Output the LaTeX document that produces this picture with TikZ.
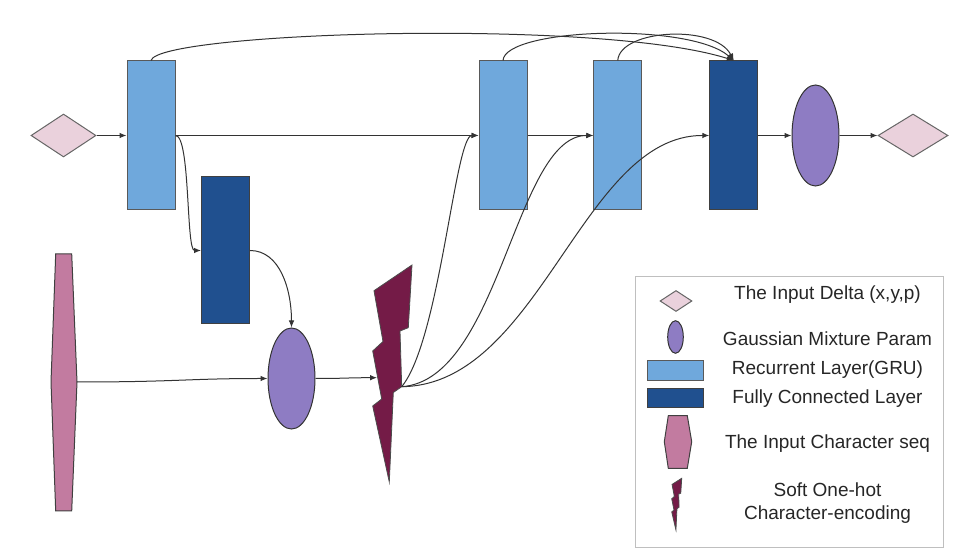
\documentclass[tikz,border=0pt]{standalone}
\usepackage{fontspec}
\setmainfont{Liberation Sans}
\usetikzlibrary{shapes.geometric,arrows.meta}
\definecolor{deltapink}{HTML}{EAD1DC}
\definecolor{grublue}{HTML}{6FA8DC}
\definecolor{fcblue}{HTML}{20508F}
\definecolor{gmmpurple}{HTML}{8E7CC3}
\definecolor{seqpink}{HTML}{C27BA0}
\definecolor{boltred}{HTML}{741B47}
\definecolor{linegray}{HTML}{333333}
\tikzset{
  boltshape/.pic={
    \filldraw[fill=boltred,draw=black!70,line width=0.4pt]
      (0,0) -- (-38,25.7) -- (-29,76.5) -- (-39.3,86) -- (-30.3,134) -- (-39.3,141)
      -- (-22.7,217) -- (-18.7,127.5) -- (-10.3,121.7) -- (-12,66) -- (-3.7,62.7) -- cycle;
  }
}
\begin{document}
\begin{tikzpicture}[x=0.5pt,y=-0.5pt,
  gru/.style={rectangle,draw=black!65,line width=0.5pt,fill=grublue,minimum width=24pt,minimum height=74.5pt,inner sep=0pt},
  fc/.style={gru,fill=fcblue,draw=black!75},
  delta/.style={diamond,draw=black!60,fill=deltapink,line width=0.5pt,inner sep=0pt},
  gmm/.style={ellipse,draw=black!80,fill=gmmpurple,line width=0.5pt,inner sep=0pt,minimum width=23.5pt,minimum height=50.5pt},
  seqshape/.style={fill=seqpink,draw=black!75,line width=0.5pt},
  conn/.style={draw=linegray,line width=0.5pt,-{Latex[length=3.5pt,width=2.8pt]}},
  legendtext/.style={font=\fontsize{9.5}{11.5}\selectfont,text=black!85,align=center,inner sep=0pt},
  legendbox/.style={rectangle,draw=black!25,line width=0.7pt,minimum width=153.8pt,minimum height=135.5pt,inner sep=0pt},
]
\useasboundingbox (0,0) rectangle (969,560);

% main row
\node[delta,minimum width=32.5pt,minimum height=21.5pt] (din) at (63.5,135.5) {};
\node[gru] (g1) at (151,135.5) {};
\node[gru] (g2) at (503,135.5) {};
\node[gru] (g3) at (617.75,135.5) {};
\node[fc] (f1) at (733.75,135.5) {};
\node[gmm] (e1) at (815.5,135.5) {};
\node[delta,minimum width=35pt,minimum height=21.5pt] (dout) at (913,135.5) {};

% lower part
\node[fc,minimum height=73.5pt] (f2) at (225.5,250.5) {};
\node[gmm] (e2) at (291.5,378.5) {};
\draw[seqshape] (55.7,254) -- (71.7,254) -- (77,382) -- (71.7,511) -- (55.7,511) -- (51,382) -- cycle;
\coordinate (seqout) at (77,382);
\pic at (412,265) {boltshape};
\coordinate (boltin) at (377,377.7);
\coordinate (boltout) at (401.7,386.7);

% connectors
\draw[conn] (din) -- (g1);
\draw[conn] (g1.east) -- (g2.west);
\draw[conn] (g2) -- (g3);
\draw[conn] (f1) -- (e1);
\draw[conn] (e1) -- (dout);
\draw[conn] (g1.east) .. controls +(15,0) and +(-15,0) .. (f2.west);
\draw[conn] (f2.east) .. controls +(30,0) and +(0,-38) .. (e2.north);
\draw[conn] (seqout) .. controls +(100,0) and +(-80,0) .. (e2.west);
\draw[conn] (e2.east) .. controls +(30,0) and +(-30,0) .. (boltin);
\draw[conn] (boltout) .. controls (440,340) and (455,135) .. (g2.west);
\draw[conn] (boltout) .. controls (500,380) and (515,135) .. (g3.west);
\draw[conn] (boltout) .. controls (540,385) and (582,135) .. (f1.west);
\draw[conn] (g1.north) .. controls (158,32) and (600,18) .. (f1.north);
\draw[conn] (g2.north) .. controls (505,28) and (690,22) .. (f1.north);
\draw[conn] (g3.north) .. controls (620,29) and (715,24) .. (f1.north);

% legend
\node[legendbox] (legend) at (789.5,412.2) {};
\node[delta,minimum width=16pt,minimum height=10.5pt] (ldelta) at (676,301) {};
\node[gmm,minimum width=7.8pt,minimum height=16.3pt] (lgmm) at (675.5,337) {};
\node[gru,minimum width=27.8pt,minimum height=10.15pt] (lgru) at (675.5,370.85) {};
\node[fc,minimum width=27.8pt,minimum height=9.7pt] (lfc) at (675.5,398) {};
\draw[seqshape] (668.3,415.7) -- (687.3,415.7) -- (691.7,441.7) -- (687.3,468.3) -- (668.3,468.3) -- (664.3,441.7) -- cycle;
\pic[xscale=0.254,yscale=0.238] at (681.7,478.3) {boltshape};

\node[legendtext] (t1) at (827.5,295) {The Input Delta (x,y,p)};
\node[legendtext] (t2) at (827.5,338.3) {Gaussian Mixture Param};
\node[legendtext] (t3) at (827.5,370) {Recurrent Layer(GRU)};
\node[legendtext] (t4) at (827.5,398.3) {Fully Connected Layer};
\node[legendtext] (t5) at (827.5,443.3) {The Input Character seq};
\node[legendtext] (t6) at (827.5,503.4) {Soft One-hot\\Character-encoding};
\end{tikzpicture}
\end{document}
